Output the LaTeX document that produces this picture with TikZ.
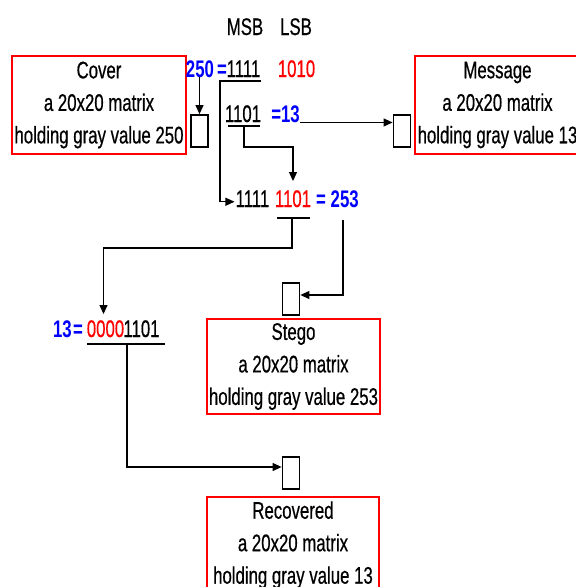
\documentclass[tikz,border=0pt]{standalone}
\usepackage{fontspec}
\setmainfont{Liberation Sans}[FakeStretch=0.70, UprightFeatures={FakeBold=0.5}]
\usetikzlibrary{arrows.meta, positioning, calc}
\definecolor{bitred}{RGB}{255,0,0}
\definecolor{bitblue}{RGB}{0,0,255}

\begin{document}
\begin{tikzpicture}[x=1pt,y=-1pt,
    txt/.style={inner sep=0pt, font=\fontsize{24}{32.5}\selectfont},
    bit/.style={txt, anchor=base},
    val/.style={bit, text=bitblue, font=\fontsize{24}{32.5}\selectfont\bfseries},
    imgbox/.style={draw=bitred, line width=2pt, inner sep=0pt, align=center, txt},
    pix/.style={draw, line width=1.8pt, minimum width=17pt, minimum height=32pt, inner sep=0pt},
    arr/.style={-{Triangle[length=9pt,width=8pt]}, line width=1.1pt},
    wire/.style={line width=1.1pt}]
  \clip (0,0) rectangle (576,587);
  \fill[white] (0,0) rectangle (576,587);
  % header
  \node[bit] (msb) at (245,35) {MSB};
  \node[bit] (lsb) at (296,35) {LSB};
  % cover and message
  \node[imgbox, minimum width=174pt, minimum height=98pt] (cover) at (99,105) {Cover\\a 20x20 matrix\\holding gray value 250};
  \node[imgbox, minimum width=165pt, minimum height=98pt] (msg) at (497.5,105) {Message\\a 20x20 matrix\\holding gray value 13};
  \node[pix] (cpix) at (199.5,131) {};
  \node[pix] (mpix) at (402,131) {};
  \node[val] (cval) at (200,77) {250};
  \node[val] (ceq) at (222,77) {=};
  \node[bit] (cmsb) at (243.5,77) {1111};
  \node[bit, text=bitred] (clsb) at (296.5,77) {1010};
  \node[bit] (mbits) at (243,122) {1101};
  \node[val, anchor=base east] (mval) at (300,122) {=13};
  \draw[wire] (219,81) -- (261,81);
  \draw[wire] (228,126) -- (260,126);
  % stego
  \node[bit] (sb1) at (252.5,207) {1111};
  \node[bit, text=bitred] (sb2) at (293,207) {1101};
  \node[val] (sval) at (337.5,207) {= 253};
  \draw[wire] (277,218) -- (310,218);
  \node[pix] (spix) at (291,299) {};
  \node[imgbox, line width=1.2pt, minimum width=173pt, minimum height=95pt] (stego) at (293.5,366.5) {Stego\\a 20x20 matrix\\holding gray value 253};
  % recovered
  \node[val] (r1) at (62.5,337) {13};
  \node[val] (r2) at (78,337) {=};
  \node[bit, text=bitred] (r3) at (105.5,337) {0000};
  \node[bit] (r4) at (141.5,337) {1101};
  \draw[wire] (87,344) -- (165,344);
  \node[pix] (rpix) at (291,473) {};
  \node[imgbox, line width=1.2pt, minimum width=172pt, minimum height=96pt] (rec) at (293,545) {Recovered\\a 20x20 matrix\\holding gray value 13};
  % connectors
  \coordinate (u1) at (220,81);
  \coordinate (u2) at (244,126);
  \coordinate (u3) at (292,218);
  \coordinate (u4) at (127,344);
  \coordinate (v3) at (343,220);
  \draw[arr] (cval.south -| cpix.north) -- (cpix.north);
  \draw[arr] (mval.south east) -- (mpix.west |- mval.south east);
  \draw[arr] (u1) |- ([yshift=-3pt,xshift=-1pt]sb1.west);
  \draw[arr] (u2) -- ++(0,21) -| ([yshift=9pt]sb2.north);
  \draw[arr] (u3) -- ++(0,30) -| ([xshift=-2pt,yshift=6pt]r3.north);
  \draw[arr] (v3) |- ([yshift=4pt]spix.east);
  \draw[arr] (u4) |- ([yshift=6pt]rpix.west);
\end{tikzpicture}
\end{document}
